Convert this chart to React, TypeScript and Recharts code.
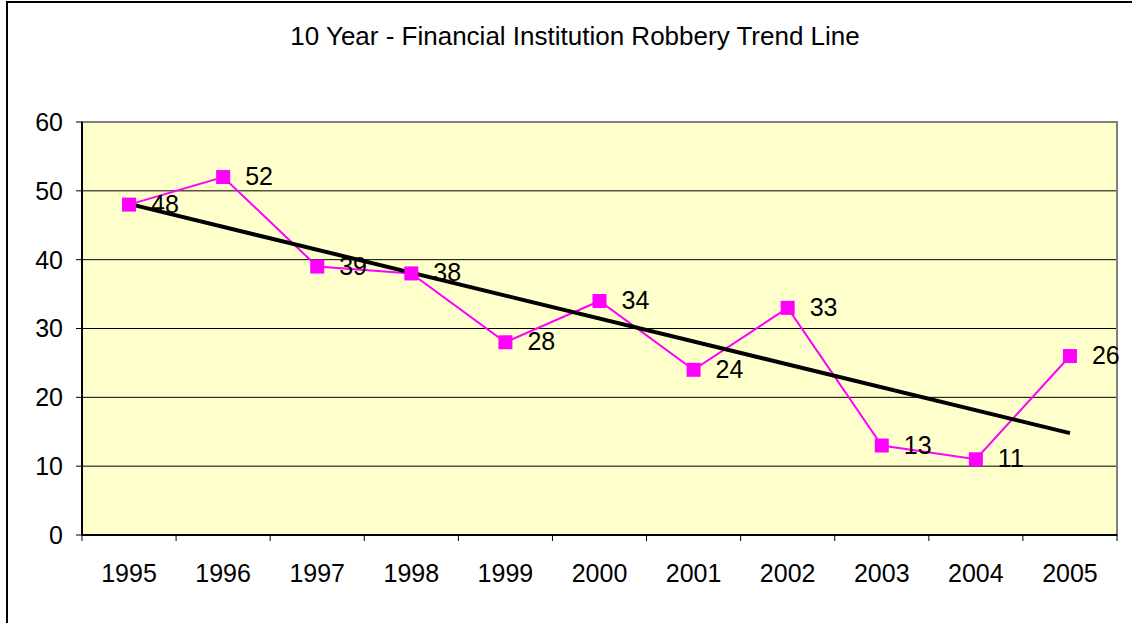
import { LineChart, Line, XAxis, YAxis, CartesianGrid, ReferenceArea, LabelList } from "recharts";

const years = ["1995", "1996", "1997", "1998", "1999", "2000", "2001", "2002", "2003", "2004", "2005"];
const robberies = [48, 52, 39, 38, 28, 34, 24, 33, 13, 11, 26];
const trend = [48.1, null, null, null, null, null, null, null, null, null, 14.8];
const yTicks = [0, 10, 20, 30, 40, 50, 60];

const data = years.map((year, i) => ({ year, robberies: robberies[i], trend: trend[i] }));

const FONT = "'Liberation Sans', Arial, sans-serif";
const MAGENTA = "#FF00FF";

function YearTick(props: any) {
  const { x, y, payload, index } = props;
  const half = payload?.offset ?? 47;
  return (
    <g>
      <line x1={x - half} y1={y - 8} x2={x - half} y2={y - 2} stroke="#000" />
      {index === years.length - 1 && (
        <line x1={x + half} y1={y - 8} x2={x + half} y2={y - 2} stroke="#000" />
      )}
      <text x={x} y={y + 39} textAnchor="middle" fontSize={25} fontFamily={FONT} fill="#000">
        {payload.value}
      </text>
    </g>
  );
}

function SquareDot(props: any) {
  const { cx, cy } = props;
  if (cx == null || cy == null) return null;
  return <rect x={cx - 7} y={cy - 7} width={14} height={14} fill={MAGENTA} />;
}

function ValueLabel(props: any) {
  const { x, y, value } = props;
  return (
    <text x={x + 22} y={y + 8} fontSize={25} fontFamily={FONT} fill="#000">
      {value}
    </text>
  );
}

export default function App() {
  return (
    <div
      style={{
        position: "absolute",
        left: 0,
        top: 0,
        width: 1132,
        height: 623,
        background: "#fff",
        fontFamily: FONT,
      }}
    >
      <div
        style={{
          position: "absolute",
          left: 6,
          top: 1,
          right: 0,
          bottom: 0,
          borderLeft: "2px solid #000",
          borderTop: "2px solid #000",
        }}
      />
      <div
        style={{
          position: "absolute",
          top: 21,
          width: 1150,
          textAlign: "center",
          fontSize: 26,
          lineHeight: "30px",
          color: "#000",
        }}
      >
        10 Year - Financial Institution Robbery Trend Line
      </div>
      <div style={{ position: "absolute", left: 0, top: 0 }}>
        <LineChart width={1132} height={623} data={data} margin={{ top: 122, right: 15, left: 10, bottom: 48 }}>
          <CartesianGrid vertical={false} stroke="#000" fill="#FFFFCC" />
          <ReferenceArea y1={0} y2={60} fill="none" stroke="#808080" strokeWidth={2} />
          <XAxis
            dataKey="year"
            scale="band"
            height={40}
            axisLine={{ stroke: "#000", strokeWidth: 2 }}
            tickLine={false}
            tick={<YearTick />}
            interval={0}
          />
          <YAxis
            domain={[0, 60]}
            ticks={yTicks}
            width={72}
            axisLine={{ stroke: "#000", strokeWidth: 2 }}
            tickLine={{ stroke: "#000" }}
            tickSize={6}
            tickMargin={13}
            tick={{ fontSize: 25, fontFamily: FONT, fill: "#000" }}
          />
          <Line
            dataKey="robberies"
            stroke={MAGENTA}
            strokeWidth={2}
            dot={<SquareDot />}
            activeDot={false}
            isAnimationActive={false}
          >
            <LabelList dataKey="robberies" content={<ValueLabel />} />
          </Line>
          <Line
            dataKey="trend"
            stroke="#000"
            strokeWidth={4}
            dot={false}
            activeDot={false}
            connectNulls
            isAnimationActive={false}
          />
        </LineChart>
      </div>
    </div>
  );
}
